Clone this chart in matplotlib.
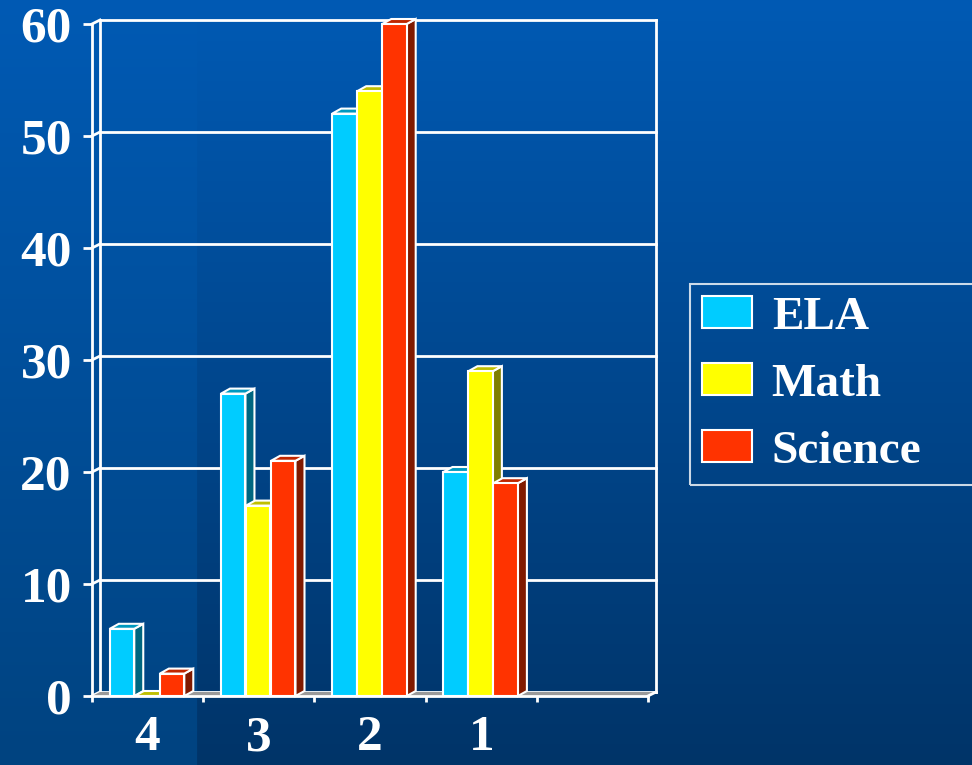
import numpy as np
import matplotlib
matplotlib.use('Agg')
import matplotlib.pyplot as plt
from matplotlib.patches import Polygon, Rectangle
from matplotlib.legend_handler import HandlerPatch

# ---- data ----
categories = ['4', '3', '2', '1']
series = ['ELA', 'Math', 'Science']
ela = [6, 27, 52, 20]
math_vals = [0, 17, 54, 29]
science = [2, 21, 60, 19]
y_ticks = [0, 10, 20, 30, 40, 50, 60]

values = [ela, math_vals, science]
front_colors = ['#00CCFF', '#FFFF00', '#FF3300']
side_colors = ['#006680', '#808000', '#801A00']
top_colors = ['#0099BF', '#BFBF00', '#BF2600']

W, H = 972, 765
fig = plt.figure(figsize=(W / 100, H / 100), dpi=100)

# background gradient
bg = fig.add_axes([0, 0, 1, 1])
bg.axis('off')
t = np.linspace(0, 1, H)[:, None]
c_top = np.array([0, 90, 180]) / 255
c_br = np.array([0, 52, 104]) / 255
c_bl = np.array([0, 67, 128]) / 255
col_r = c_top[None, :] + (c_br - c_top)[None, :] * t
col_l = c_top[None, :] + (c_bl - c_top)[None, :] * t
img = np.empty((H, W, 3))
img[:, :197, :] = col_l[:, None, :]
img[:, 197:, :] = col_r[:, None, :]
bg.imshow(img, aspect='auto', extent=[0, 1, 0, 1])
bg.set_xlim(0, 1)
bg.set_ylim(0, 1)

# main axes (front plane)
ax = fig.add_axes([92 / W, 69 / H, 556 / W, 672 / H])
ax.set_xlim(-0.5, 4.5)
ax.set_ylim(0, 60)
ax.patch.set_alpha(0)
for s in ax.spines.values():
    s.set_visible(False)

sx = 5 / 556
sy = 60 / 672
wdx, wdy = 8 * sx, 4 * sy
bdx, bdy = 9 * sx, 5 * sy
xmin, xmax = -0.5, 4.5

lw = 2
# walls and grid
for y in y_ticks:
    ax.plot([xmin + wdx, xmax + wdx], [y + wdy, y + wdy], color='white', lw=lw, clip_on=False, zorder=1)
    ax.plot([xmin, xmin + wdx], [y, y + wdy], color='white', lw=lw, clip_on=False, zorder=1)
ax.plot([xmin, xmin], [0, 60], color='white', lw=lw, clip_on=False, zorder=1)
ax.plot([xmin + wdx, xmin + wdx], [wdy, 60 + wdy], color='white', lw=lw, clip_on=False, zorder=1)
ax.plot([xmax + wdx, xmax + wdx], [wdy, 60 + wdy], color='white', lw=lw, clip_on=False, zorder=1)
# floor
ax.add_patch(Polygon([(xmin, 0), (xmax, 0), (xmax + wdx, wdy), (xmin + wdx, wdy)],
                     closed=True, facecolor='#9A9A9A', edgecolor='none', clip_on=False, zorder=1.2))
ax.plot([xmin, xmax], [0, 0], color='white', lw=lw, clip_on=False, zorder=1.3)
ax.plot([xmax, xmax + wdx], [0, wdy], color='white', lw=lw, clip_on=False, zorder=1.3)

# bars
bw = 0.22
offsets = [-0.23, -0.005, 0.22]
handles = []
for i, vals in enumerate(values):
    xs = np.arange(len(categories)) + offsets[i]
    z = 3 + i
    for x, h in zip(xs, vals):
        x0, x1 = x - bw / 2, x + bw / 2
        ax.add_patch(Polygon([(x1, 0), (x1 + bdx, bdy), (x1 + bdx, h + bdy), (x1, h)], closed=True,
                             facecolor=side_colors[i], edgecolor='white', lw=1.5, zorder=z, clip_on=False))
        ax.add_patch(Polygon([(x0, h), (x1, h), (x1 + bdx, h + bdy), (x0 + bdx, h + bdy)], closed=True,
                             facecolor=top_colors[i], edgecolor='white', lw=1.5, zorder=z, clip_on=False))
    bars = ax.bar(xs, vals, width=bw, color=front_colors[i], edgecolor='white', linewidth=1.5,
                  zorder=z + 0.5, clip_on=False)
    handles.append(bars)

font = {'family': 'Liberation Serif', 'weight': 'bold'}

ax.set_yticks(y_ticks)
ax.set_yticklabels([str(v) for v in y_ticks], fontdict=font)
ax.tick_params(axis='y', colors='white', length=6.5, width=2, pad=8, labelsize=37)

ax.set_xticks(range(len(categories)))
ax.set_xticklabels(categories, fontdict=font)
ax.set_xticks(np.arange(-0.5, 4.6, 1), minor=True)
ax.tick_params(axis='x', which='major', colors='white', length=0, pad=14, labelsize=37)
ax.tick_params(axis='x', which='minor', colors='white', length=4.5, width=2)


def square_patch(legend, orig_handle, xdescent, ydescent, width, height, fontsize):
    off = 6.5
    return Rectangle((-xdescent + off, -ydescent), width - off, height)


leg_fs = 34
leg = fig.legend(handles, series, loc='upper left',
                 bbox_to_anchor=(690 / W, 1 - 284 / H, 330 / W, 0), mode='expand',
                 frameon=True, fancybox=False, edgecolor='white', facecolor='none',
                 prop={'family': 'Liberation Serif', 'weight': 'bold', 'size': leg_fs},
                 labelcolor='white', handlelength=1.05, handleheight=0.66, handletextpad=0.42,
                 labelspacing=0.52, borderpad=0.26, borderaxespad=0,
                 handler_map={type(handles[0][0]): HandlerPatch(patch_func=square_patch)})
leg.get_frame().set_linewidth(1.5)

fig.savefig('out.png', dpi=100)
